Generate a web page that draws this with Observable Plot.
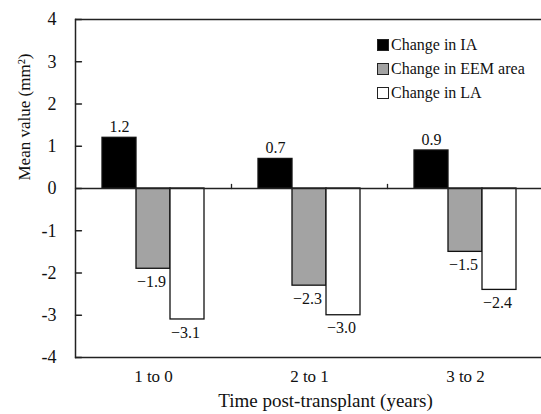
<!DOCTYPE html>
<html>
<head>
<meta charset="utf-8">
<script src="https://cdn.jsdelivr.net/npm/d3@7"></script>
<script src="https://cdn.jsdelivr.net/npm/@observablehq/plot@0.6"></script>
<style>
  html, body { margin: 0; padding: 0; background: white; overflow: hidden; }
  #wrap { position: relative; width: 541px; height: 414px; }
  #legend { position: absolute; left: 377px; top: 33px; font-family: "Liberation Serif", serif; font-size: 16px; color: #111; }
  #legend .row { display: flex; align-items: center; height: 24px; }
  #legend .sw { width: 10px; height: 10px; border: 1.5px solid #222; margin-right: 2px; box-sizing: content-box; }
</style>
</head>
<body>
<div id="wrap"></div>
<script>
const periods = ["1 to 0", "2 to 1", "3 to 2"];
const series = ["Change in IA", "Change in EEM area", "Change in LA"];
const iaValues = [1.2, 0.7, 0.9];
const eemValues = [-1.9, -2.3, -1.5];
const laValues = [-3.1, -3.0, -2.4];
const colors = ["#000000", "#a3a3a3", "#ffffff"];
const yTicks = [-4, -3, -2, -1, 0, 1, 2, 3, 4];
const xTitle = "Time post-transplant (years)";
const yTitle = "Mean value (mm²)";

const valuesBySeries = [iaValues, eemValues, laValues];
const data = [];
periods.forEach((p, i) => {
  series.forEach((s, j) => data.push({period: p, series: s, value: valuesBySeries[j][i]}));
});
const fmt = d => (d < 0 ? "\u2212" + Math.abs(d).toFixed(1) : d.toFixed(1));
const lineShape = { draw(context, l) { context.moveTo(0, 0); context.lineTo(0, -l); } };

const chart = Plot.plot({
  width: 541,
  height: 414,
  marginLeft: 74,
  marginTop: 19,
  marginBottom: 57,
  marginRight: -2,
  style: { fontFamily: "Liberation Serif, serif", background: "white", color: "#111" },
  fx: { domain: periods, padding: 0, label: null },
  x: { domain: series, paddingInner: 0, paddingOuter: 0.74, axis: null },
  y: { domain: [-4, 4] },
  color: { domain: series, range: colors },
  marks: [
    Plot.barY(data, { fx: "period", x: "series", y: "value", fill: "series", stroke: "#111", strokeWidth: 1.3 }),
    Plot.ruleY([4, -4, 0], { stroke: "#222", strokeWidth: 1.5 }),
    Plot.frame({ anchor: "left", facetAnchor: "left", stroke: "#222", strokeWidth: 1.5 }),
    Plot.vector([0], { y: d => d, frameAnchor: "right", length: 4, rotate: 0, anchor: "start", shape: lineShape, stroke: "#222", strokeWidth: 1.3 }),
    Plot.vector(yTicks, { y: d => d, frameAnchor: "left", length: 6, rotate: 90, anchor: "start", shape: lineShape, stroke: "#222", strokeWidth: 1.3, facetAnchor: "left" }),
    Plot.axisY(yTicks, { tickSize: 0, tickPadding: 19, fontSize: 18, tickFormat: d => String(d), label: null }),
    Plot.axisFx({ anchor: "bottom", tickSize: 0, tickPadding: 12, fontSize: 17, label: null }),
    Plot.text(data.filter(d => d.value > 0), { fx: "period", x: "series", y: "value", text: d => fmt(d.value), dy: -11, fontSize: 16, fill: "#111" }),
    Plot.text(data.filter(d => d.value < 0), { fx: "period", x: "series", y: "value", text: d => fmt(d.value), dy: 13, dx: -2, fontSize: 16, fill: "#111" }),
    Plot.text([{ period: periods[1], label: xTitle }], { fx: "period", text: "label", frameAnchor: "bottom", dy: 49, dx: 16, fontSize: 19, fill: "#111" }),
    Plot.text([yTitle], { frameAnchor: "left", rotate: -90, dx: -51, dy: -8, fontSize: 17, fill: "#111", facetAnchor: "left" })
  ]
});

const wrap = document.getElementById("wrap");
wrap.appendChild(chart);
const legend = document.createElement("div");
legend.id = "legend";
series.forEach((s, i) => {
  const row = document.createElement("div");
  row.className = "row";
  const sw = document.createElement("span");
  sw.className = "sw";
  sw.style.background = colors[i];
  const t = document.createElement("span");
  t.textContent = s;
  row.appendChild(sw);
  row.appendChild(t);
  legend.appendChild(row);
});
wrap.appendChild(legend);
</script>
</body>
</html>
